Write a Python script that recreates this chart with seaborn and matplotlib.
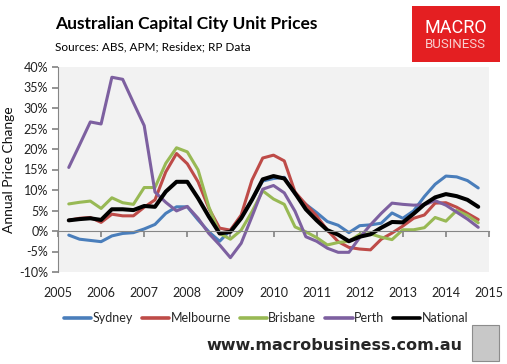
import numpy as np
import pandas as pd
import matplotlib
matplotlib.use("Agg")
import matplotlib.pyplot as plt
import seaborn as sns
from matplotlib.patches import Rectangle

# quarterly annual price change (%), Q1 2005 .. Q3 2014
quarters = 2005.25 + 0.25 * np.arange(39)

sydney = [-1.0, -2.0, -2.3, -2.6, -1.2, -0.6, -0.4, 0.5, 1.6, 4.3,
          5.9, 5.9, 2.7, -0.2, -2.5, 0.2, 3.5, 7.6, 12.2, 12.8,
          13.1, 9.0, 6.5, 4.5, 2.3, 1.4, -0.4, 1.3, 1.5, 1.9,
          4.4, 3.1, 4.9, 8.4, 11.4, 13.4, 13.2, 12.3, 10.5]
melbourne = [2.6, 3.1, 3.3, 2.1, 4.1, 3.7, 3.7, 5.8, 7.6, 14.4,
             18.9, 16.4, 12.0, 5.5, 0.7, 0.2, 3.9, 12.4, 17.8, 18.5,
             17.1, 9.5, 6.5, 3.7, 0.2, -2.6, -4.0, -4.4, -4.6, -2.0,
             -0.5, 1.2, 3.1, 3.9, 6.8, 6.9, 5.8, 4.3, 2.8]
brisbane = [6.6, 7.0, 7.3, 5.5, 8.1, 6.9, 6.5, 10.6, 10.6, 16.5,
            20.3, 19.3, 14.9, 5.9, -0.6, -2.0, 0.2, 4.7, 9.8, 7.8,
            6.5, 1.0, -0.2, -1.6, -3.4, -2.8, -2.5, -0.8, -0.7, -1.5,
            -2.1, 0.3, 0.3, 0.8, 3.3, 2.4, 5.0, 3.8, 2.0]
perth = [15.5, 21.0, 26.6, 26.1, 37.5, 37.0, 31.3, 25.7, 9.5, 7.0,
         4.9, 6.0, 3.1, -0.6, -3.4, -6.5, -3.0, 3.5, 10.2, 11.1,
         9.3, 4.8, -1.4, -2.5, -4.2, -5.2, -5.2, -1.6, 1.5, 4.3,
         6.8, 6.5, 6.3, 6.4, 7.4, 6.3, 4.6, 2.9, 0.9]
national = [2.6, 2.9, 3.1, 2.7, 5.3, 5.3, 5.1, 6.1, 5.9, 9.6,
            12.0, 12.0, 8.0, 3.5, -0.6, -0.2, 3.1, 7.6, 12.6, 13.4,
            12.8, 9.2, 5.3, 2.6, 0.2, -0.9, -2.5, -1.4, -0.8, 0.8,
            2.2, 2.1, 4.2, 6.5, 8.2, 9.0, 8.5, 7.6, 5.9]

cities = ["Sydney", "Melbourne", "Brisbane", "Perth", "National"]
colors = ["#4A7EBB", "#BE4B48", "#98B954", "#7D60A0", "#000000"]
widths = [2.2, 2.2, 2.2, 2.2, 2.9]
year_ticks = list(range(2005, 2016))
pct_ticks = list(range(-10, 45, 5))

df = pd.DataFrame({"quarter": np.tile(quarters, 5),
                   "change": sydney + melbourne + brisbane + perth + national,
                   "city": np.repeat(cities, len(quarters))})

sns.set_theme(style="white")
plt.rcParams["font.family"] = ["Lato", "DejaVu Sans"]

W, H = 507, 364
fig = plt.figure(figsize=(W / 100, H / 100), dpi=100)
ax = fig.add_axes([58 / W, 1 - 272 / H, (489 - 58) / W, (272 - 67) / H])
ax.set_facecolor("#F2F2F2")

for city, col, lw in zip(cities, colors, widths):
    sns.lineplot(data=df[df["city"] == city], x="quarter", y="change",
                 color=col, linewidth=lw, label=city, ax=ax)

ax.set_xlim(2005, 2015)
ax.set_ylim(-10, 40)
ax.set_yticks(pct_ticks)
ax.set_yticklabels([f"{v}%" for v in pct_ticks], fontsize=9, color="#222222")
ax.tick_params(axis="y", direction="out", length=4, color="#868686", pad=3, left=True)

# x axis line sits at 0%, labels at the bottom
for s in ["top", "right"]:
    ax.spines[s].set_visible(False)
ax.spines["left"].set_color("#868686")
ax.spines["left"].set_linewidth(0.8)
ax.spines["bottom"].set_position(("data", 0))
ax.spines["bottom"].set_color("#868686")
ax.spines["bottom"].set_linewidth(0.8)
ax.set_xticks(year_ticks)
ax.tick_params(axis="x", direction="out", length=4, color="#868686",
               labelbottom=False, bottom=True)
sec = ax.secondary_xaxis(0)
sec.set_xticks(year_ticks)
sec.set_xticklabels([str(y) for y in year_ticks], fontsize=9, color="#222222")
sec.tick_params(length=0, pad=11)
sec.spines["bottom"].set_visible(False)

ax.set_xlabel("")
ax.set_ylabel("Annual Price Change", fontsize=10, color="#111111")
ax.yaxis.set_label_coords((15 - 58) / 431, 0.5)

leg = ax.legend(loc="center", bbox_to_anchor=(266 / W, 1 - 318 / H),
                bbox_transform=fig.transFigure, ncol=5, frameon=False,
                fontsize=9, handlelength=2.2, handletextpad=0.1,
                columnspacing=0.7)
for line in leg.get_lines():
    line.set_linewidth(2.6)

# titles
fig.text(55 / W, 1 - 24 / H, "Australian Capital City Unit Prices",
         fontsize=12.5, fontweight="bold", va="center", ha="left", color="#000000")
fig.text(55 / W, 1 - 47 / H, "Sources: ABS, APM; Residex; RP Data",
         fontsize=8.5, va="center", ha="left", color="#000000")

# logo box
fig.patches.append(Rectangle((412 / W, 1 - 62 / H), 88 / W, 56 / H,
                             transform=fig.transFigure, facecolor="#E41F22",
                             edgecolor="none"))
fig.text(456 / W, 1 - 28 / H, "MACRO", fontsize=13, color="white",
         ha="center", va="center", family=["Liberation Sans Narrow", "Roboto"])
fig.text(455 / W, 1 - 45 / H, "BUSINESS", fontsize=9.5, color="#F8D0D0",
         ha="center", va="center", family=["Liberation Sans Narrow", "Roboto"])

# footer
fig.text(462 / W, 1 - 346 / H, "www.macrobusiness.com.au", fontsize=11.5,
         fontweight="bold", ha="right", va="center", family=["DejaVu Sans"])
fig.patches.append(Rectangle((472 / W, 1 - 361 / H), 27 / W, 36 / H,
                             transform=fig.transFigure, facecolor="#C8C8C8",
                             edgecolor="#8C8C8C", linewidth=0.8))

fig.savefig("out.png", dpi=100)
